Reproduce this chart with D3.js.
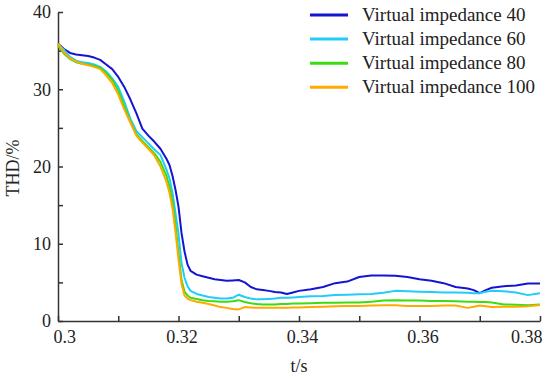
<!DOCTYPE html>
<html>
<head>
<meta charset="utf-8">
<script src="https://d3js.org/d3.v7.min.js"></script>
<style>
  body { margin: 0; background: #fff; }
  text { font-family: "Liberation Serif", "Times New Roman", serif; fill: #222; }
</style>
</head>
<body>
<svg id="vis"></svg>
<script>
    // time samples (s)
    var times = [0.300, 0.301, 0.302, 0.303, 0.304, 0.305, 0.306, 0.307, 0.308, 0.309,
                 0.310, 0.311, 0.312, 0.313, 0.314, 0.315, 0.316, 0.317, 0.318, 0.3185,
                 0.319, 0.3195, 0.320, 0.3205, 0.321, 0.3215, 0.322, 0.323, 0.324, 0.325,
                 0.326, 0.327, 0.328, 0.329, 0.330, 0.331, 0.332, 0.333, 0.334, 0.335,
                 0.336, 0.337, 0.338, 0.339, 0.340, 0.342, 0.344, 0.346, 0.348, 0.350,
                 0.352, 0.354, 0.356, 0.358, 0.360, 0.362, 0.364, 0.366, 0.368, 0.369,
                 0.370, 0.371, 0.372, 0.374, 0.376, 0.378, 0.380];

    // THD (%) for each virtual impedance
    var thd40 = [35.9, 35.2, 34.7, 34.5, 34.4, 34.3, 34.1, 33.8, 33.2, 32.6,
                 31.6, 30.3, 28.7, 26.9, 24.9, 24.0, 23.2, 22.3, 21.0, 20.2,
                 18.8, 17.0, 14.8, 11.4, 9.0, 7.3, 6.5, 6.0, 5.8, 5.6,
                 5.4, 5.3, 5.2, 5.25, 5.3, 5.0, 4.4, 4.1, 4.0, 3.9,
                 3.75, 3.7, 3.5, 3.7, 3.9, 4.1, 4.4, 4.9, 5.1, 5.7,
                 5.9, 5.9, 5.85, 5.7, 5.4, 5.2, 4.9, 4.4, 4.2, 4.0,
                 3.6, 4.0, 4.3, 4.5, 4.6, 4.85, 4.85];
    var thd60 = [35.8, 35.1, 34.2, 33.7, 33.5, 33.4, 33.2, 32.9, 32.3, 31.4,
                 30.3, 28.4, 26.2, 24.6, 23.8, 23.0, 22.2, 21.5, 19.6, 18.5,
                 16.6, 14.0, 11.3, 7.5, 5.6, 4.5, 3.9, 3.5, 3.3, 3.1,
                 3.0, 2.9, 2.9, 3.0, 3.4, 3.1, 2.9, 2.8, 2.8, 2.85,
                 2.9, 3.0, 3.0, 3.05, 3.1, 3.2, 3.25, 3.35, 3.4, 3.45,
                 3.5, 3.65, 3.9, 3.85, 3.8, 3.75, 3.7, 3.7, 3.65, 3.6,
                 3.6, 3.8, 3.9, 3.85, 3.7, 3.35, 3.6];
    var thd80 = [35.6, 34.6, 33.9, 33.5, 33.3, 33.2, 33.0, 32.8, 32.1, 31.2,
                 29.8, 27.8, 25.9, 24.2, 23.3, 22.5, 21.7, 20.6, 18.8, 17.4,
                 15.5, 12.5, 8.8, 5.3, 3.8, 3.3, 3.0, 2.85, 2.7, 2.6,
                 2.55, 2.5, 2.5, 2.55, 2.7, 2.45, 2.3, 2.2, 2.15, 2.15,
                 2.15, 2.2, 2.2, 2.25, 2.25, 2.3, 2.35, 2.35, 2.4, 2.4,
                 2.5, 2.65, 2.7, 2.65, 2.65, 2.6, 2.6, 2.55, 2.5, 2.5,
                 2.45, 2.45, 2.4, 2.15, 2.1, 2.05, 2.15];
    var thd100 = [35.9, 34.8, 34.0, 33.6, 33.3, 33.1, 32.9, 32.6, 31.8, 30.8,
                  29.3, 27.4, 25.7, 24.0, 23.1, 22.3, 21.4, 20.0, 18.0, 16.6,
                  14.6, 11.5, 8.0, 4.8, 3.3, 2.9, 2.7, 2.5, 2.35, 2.2,
                  2.0, 1.8, 1.7, 1.55, 1.5, 1.8, 1.75, 1.7, 1.7, 1.7,
                  1.7, 1.7, 1.7, 1.75, 1.75, 1.8, 1.85, 1.9, 1.95, 1.95,
                  2.0, 2.05, 2.05, 1.95, 1.95, 1.95, 2.0, 2.0, 1.7, 1.85,
                  2.0, 1.9, 1.8, 1.85, 1.85, 1.9, 2.07];

    var seriesNames = ["Virtual impedance 40", "Virtual impedance 60",
                       "Virtual impedance 80", "Virtual impedance 100"];
    var seriesColors = ["#1414d2", "#22ccf8", "#3cdc10", "#ffaa00"];
    var seriesValues = [thd40, thd60, thd80, thd100];

    var xTicks = [0.30, 0.31, 0.32, 0.33, 0.34, 0.35, 0.36, 0.37, 0.38];
    var xLabels = ["0.3", "", "0.32", "", "0.34", "", "0.36", "", "0.38"];
    var yTicks = [0, 5, 10, 15, 20, 25, 30, 35, 40];
    var yLabels = ["0", "", "10", "", "20", "", "30", "", "40"];

    //Set the graph dimensions
    var margin = {top: 12, right: 10, bottom: 57, left: 58},
        width = 550 - margin.left - margin.right,
        height = 378 - margin.top - margin.bottom;

    var svg = d3.select('#vis')
        .attr("width", width + margin.left + margin.right)
        .attr("height", height + margin.top + margin.bottom)
        .append("g")
            .attr("transform", "translate(" + margin.left + "," + margin.top + ")");

    var xScale = d3.scaleLinear().domain([0.3, 0.38]).range([0, width]);
    var yScale = d3.scaleLinear().domain([0, 40]).range([height, 0]);

    // X axis, ticks pointing inward
    var xAxis = svg.append("g")
        .attr("transform", "translate(0," + height + ")")
        .call(d3.axisBottom(xScale)
            .tickValues(xTicks)
            .tickFormat(function(d, i) { return xLabels[i]; })
            .tickSizeInner(-5)
            .tickSizeOuter(0)
            .tickPadding(9));

    // first and last labels sit inside the plot edges, the rest slightly right
    xAxis.selectAll(".tick text")
        .attr("text-anchor", function(d, i) {
            return i == 0 ? "start" : (i == xTicks.length - 1 ? "end" : "middle");
        })
        .attr("dx", function(d, i) {
            return i == 0 ? -5 : (i == xTicks.length - 1 ? 2 : 3);
        });

    // Y axis
    var yAxis = svg.append("g")
        .call(d3.axisLeft(yScale)
            .tickValues(yTicks)
            .tickFormat(function(d, i) { return yLabels[i]; })
            .tickSizeInner(-5)
            .tickSizeOuter(0)
            .tickPadding(7));

    svg.selectAll(".domain, .tick line")
        .attr("stroke", "#333")
        .attr("stroke-width", 1.5);
    svg.selectAll(".tick text")
        .style("font-family", "Liberation Serif")
        .style("font-size", "18px")
        .attr("fill", "#222");

    // axis titles
    svg.append("text")
        .attr("x", xScale(0.34))
        .attr("y", height + 51)
        .attr("text-anchor", "middle")
        .style("font-size", "18px")
        .text("t/s");

    svg.append("text")
        .attr("transform", "rotate(-90)")
        .attr("x", -(168 - margin.top))
        .attr("y", -39)
        .attr("text-anchor", "middle")
        .style("font-size", "18px")
        .text("THD/%");

    // the curves
    var line = d3.line()
        .x(function(d, i) { return xScale(times[i]); })
        .y(function(d) { return yScale(d); });

    svg.append("g")
        .selectAll("path")
        .data(seriesValues)
        .enter()
        .append("path")
            .attr("d", line)
            .attr("fill", "none")
            .attr("stroke", function(d, i) { return seriesColors[i]; })
            .attr("stroke-width", 2)
            .attr("stroke-linejoin", "round");

    // legend
    var legend = svg.append("g")
        .selectAll("g")
        .data(seriesNames)
        .enter()
        .append("g")
            .attr("transform", function(d, i) {
                return "translate(252," + (3 + i * 24.1) + ")";
            });

    legend.append("line")
        .attr("x1", 0)
        .attr("x2", 38)
        .attr("stroke", function(d, i) { return seriesColors[i]; })
        .attr("stroke-width", 3);

    legend.append("text")
        .attr("x", 52)
        .attr("y", 6)
        .style("font-size", "19px")
        .text(function(d) { return d; });
</script>
</body>
</html>
